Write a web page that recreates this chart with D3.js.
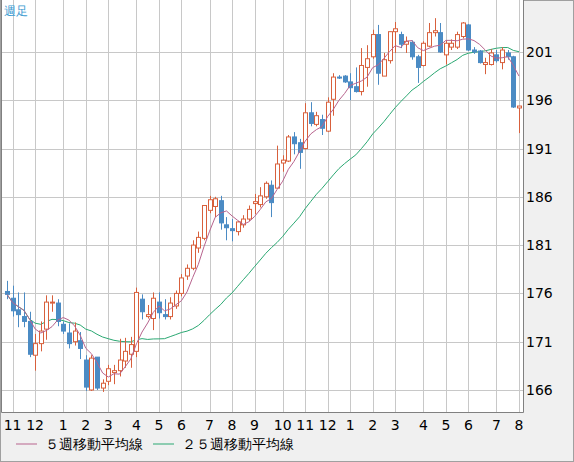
<!DOCTYPE html>
<html>
<head>
<meta charset="utf-8">
<script src="https://cdn.jsdelivr.net/npm/d3@7"></script>
<style>
body { margin: 0; background: #f0f0f0; }
svg { display: block; font-family: "DejaVu Sans", sans-serif; }
</style>
</head>
<body>
<svg id="chart"></svg>
<script>
// weekly OHLC
const opens = [176.2, 175.5, 174.3, 173.6, 173.1, 169.6, 170.8, 172.3, 175.0, 175.0,
	172.8, 171.9, 171.0, 171.1, 169.1, 166.0, 169.4, 166.2, 166.9, 167.8,
	168.0, 169.0, 169.7, 170.0, 175.4, 173.6, 173.4, 175.1, 173.8, 173.6,
	174.7, 176.0, 177.8, 178.6, 180.7, 181.7, 184.6, 185.0, 185.6, 183.1,
	182.7, 182.4, 183.1, 183.7, 185.3, 185.2, 186.0, 187.2, 186.9, 189.5,
	189.7, 192.2, 191.6, 191.0, 194.7, 193.5, 194.0, 192.8, 196.1, 198.4,
	198.5, 197.9, 197.4, 196.9, 199.4, 200.5, 202.8, 198.5, 200.1, 203.1,
	202.8, 201.8, 202.0, 200.5, 199.6, 201.6, 203.0, 203.0, 200.7, 201.5,
	201.5, 202.6, 203.8, 201.2, 201.1, 199.7, 199.7, 200.7, 199.9, 200.9,
	200.5, 195.2];
const closes = [175.9, 174.2, 173.8, 173.1, 169.7, 170.8, 172.1, 175.1, 175.1, 173.1,
	172.1, 170.8, 172.1, 170.3, 166.3, 169.3, 166.2, 166.7, 168.2, 168.0,
	169.1, 170.0, 170.7, 176.1, 174.1, 173.8, 175.5, 174.0, 173.6, 175.0,
	176.0, 177.6, 178.6, 181.0, 181.8, 185.1, 185.7, 185.8, 183.3, 182.8,
	182.5, 183.4, 183.7, 184.7, 185.5, 186.1, 187.4, 185.4, 189.4, 189.8,
	192.2, 191.5, 190.6, 194.7, 193.6, 194.4, 193.1, 195.8, 198.4, 198.3,
	197.9, 197.3, 196.9, 199.6, 200.3, 202.8, 198.8, 200.2, 203.1, 203.4,
	201.8, 202.1, 200.5, 199.4, 201.9, 203.0, 203.2, 201.0, 201.9, 201.9,
	202.8, 204.0, 201.2, 201.0, 199.9, 199.9, 200.9, 200.1, 201.2, 200.5,
	195.3, 195.4];
const highs = [177.3, 176.8, 176.1, 176.1, 174.1, 171.8, 173.1, 175.8, 175.8, 175.4,
	173.1, 172.9, 173.0, 172.0, 169.6, 169.6, 169.4, 167.1, 168.6, 168.6,
	171.3, 171.4, 171.5, 176.6, 175.9, 174.8, 176.1, 176.1, 175.4, 175.6,
	176.3, 178.0, 179.0, 181.5, 182.4, 185.1, 186.1, 186.0, 186.1, 183.9,
	183.7, 183.5, 184.1, 185.1, 186.3, 187.0, 187.6, 187.7, 191.3, 190.3,
	192.4, 192.7, 192.0, 195.7, 195.8, 194.8, 194.5, 196.3, 198.8, 198.6,
	198.6, 198.8, 199.4, 201.4, 201.7, 203.3, 203.8, 200.9, 203.1, 204.1,
	203.1, 202.6, 202.2, 200.7, 202.1, 204.0, 204.5, 204.0, 202.2, 202.3,
	203.1, 204.1, 203.9, 201.5, 201.2, 200.4, 201.3, 201.2, 201.5, 201.2,
	200.6, 195.4];
const lows = [175.4, 173.6, 172.5, 172.5, 169.4, 168.0, 170.0, 171.2, 174.1, 172.6,
	171.8, 170.3, 170.6, 169.2, 165.9, 165.9, 166.0, 165.8, 166.5, 166.6,
	167.4, 168.3, 168.3, 169.4, 173.3, 173.4, 172.2, 173.4, 173.3, 173.3,
	174.4, 175.7, 177.4, 178.4, 180.2, 181.5, 184.3, 183.9, 182.6, 181.5,
	181.4, 182.0, 182.8, 183.5, 184.2, 184.9, 185.8, 183.9, 186.9, 188.6,
	189.6, 190.4, 188.9, 190.9, 193.3, 193.3, 192.4, 192.7, 194.4, 198.2,
	197.8, 196.0, 196.8, 196.5, 197.4, 200.3, 197.6, 198.5, 199.8, 200.9,
	201.4, 200.9, 200.2, 197.8, 199.5, 201.5, 202.6, 200.9, 199.7, 201.2,
	201.3, 202.4, 201.1, 200.8, 199.8, 198.7, 199.6, 199.9, 199.2, 200.2,
	195.2, 192.6];
// month label -> first week index
const monthLabels = ['11', '12', '1', '2', '3', '4', '5', '6', '7', '8', '9',
	'10', '11', '12', '1', '2', '3', '4', '5', '6', '7', '8'];
const monthIndex = [1, 5, 10, 14, 18, 23, 27, 31, 36, 40, 44,
	49, 53, 57, 61, 65, 69, 74, 78, 82, 87, 91];
const yTicks = [166, 171, 176, 181, 186, 191, 196, 201];

const width = 574;
const height = 462;
const plot = { left: 1, right: 523, top: 0, bottom: 412 };

const svg = d3.select('#chart').attr('width', width)
	.attr('height', height);

// outer frame
svg.append('rect').attr('x', 0.5)
	.attr('y', 0.5)
	.attr('width', width - 1)
	.attr('height', height - 1)
	.attr('fill', '#f0f0f0')
	.attr('stroke', '#a0a0a0');

svg.append('rect').attr('x', plot.left)
	.attr('y', plot.top)
	.attr('width', plot.right - plot.left)
	.attr('height', plot.bottom - plot.top)
	.attr('fill', '#fff');

const x = d3.scaleLinear().domain([0, closes.length - 1])
	.range([7, 519]);
const y = d3.scaleLinear().domain([163.72, 206.38])
	.range([plot.bottom, plot.top]);

const grid = svg.append('g').attr('stroke', '#c8c8c8')
	.attr('shape-rendering', 'crispEdges');

grid.selectAll('line.h').data(yTicks)
	.join('line')
	.attr('x1', plot.left)
	.attr('x2', plot.right)
	.attr('y1', (d) => Math.round(y(d)) + 0.5)
	.attr('y2', (d) => Math.round(y(d)) + 0.5);

grid.selectAll('line.v').data(monthIndex)
	.join('line')
	.attr('x1', (d) => Math.round(x(d)) + 0.5)
	.attr('x2', (d) => Math.round(x(d)) + 0.5)
	.attr('y1', plot.top)
	.attr('y2', plot.bottom);

// moving averages (trailing window, partial at the start)
const movingAvg = (n) => closes.map((c, i) => d3.mean(closes.slice(Math.max(0, i - n + 1), i + 1)));
const line = d3.line().x((d, i) => x(i))
	.y((d) => y(d));

svg.append('path').attr('d', line(movingAvg(25)))
	.attr('fill', 'none')
	.attr('stroke', '#2aa872');

const candles = svg.append('g').selectAll('g')
	.data(closes.map((c, i) => ({ o: opens[i], c, h: highs[i], l: lows[i], i })))
	.join('g');

const colorOf = (d) => (d.c >= d.o ? '#d8603c' : '#4b8bc4');

candles.append('line')
	.attr('x1', (d) => Math.round(x(d.i)) + 0.5)
	.attr('x2', (d) => Math.round(x(d.i)) + 0.5)
	.attr('y1', (d) => y(d.h))
	.attr('y2', (d) => y(d.l))
	.attr('stroke', colorOf);

candles.append('rect')
	.attr('x', (d) => Math.round(x(d.i)) - 1.5)
	.attr('y', (d) => y(Math.max(d.o, d.c)))
	.attr('width', 4)
	.attr('height', (d) => Math.max(1, Math.abs(y(d.o) - y(d.c))))
	.attr('fill', (d) => (d.c >= d.o ? '#fff' : '#4b8bc4'))
	.attr('stroke', colorOf);

svg.append('path').attr('d', line(movingAvg(5)))
	.attr('fill', 'none')
	.attr('stroke', '#b8648e');

// plot frame
svg.append('path').attr('d', `M${ plot.left + 0.5 },0V${ plot.bottom + 0.5 }H${ plot.right + 0.5 }V0`)
	.attr('fill', 'none')
	.attr('stroke', '#808080');

svg.append('text').attr('x', 4)
	.attr('y', 15)
	.attr('font-size', 12)
	.attr('fill', '#3a9ad0')
	.text('週足');

svg.append('g').selectAll('text')
	.data(yTicks)
	.join('text')
	.attr('x', 526)
	.attr('y', (d) => y(d) + 5)
	.attr('font-size', 14)
	.attr('fill', '#000')
	.text((d) => d);

svg.append('g').selectAll('text')
	.data(monthLabels)
	.join('text')
	.attr('x', (d, i) => x(monthIndex[i]))
	.attr('y', 430)
	.attr('text-anchor', 'middle')
	.attr('font-size', 14)
	.attr('fill', '#000')
	.text((d) => d);

const legend = [
	{ label: '５週移動平均線', color: '#b8648e', x: 16 },
	{ label: '２５週移動平均線', color: '#2aa872', x: 153 },
];
const lg = svg.append('g').selectAll('g')
	.data(legend)
	.join('g')
	.attr('transform', (d) => `translate(${ d.x },449)`);

lg.append('line').attr('x1', 0)
	.attr('x2', 21)
	.attr('y1', -5)
	.attr('y2', -5)
	.attr('stroke', (d) => d.color);

lg.append('text').attr('x', 29)
	.attr('font-size', 14)
	.attr('fill', '#000')
	.text((d) => d.label);
</script>
</body>
</html>
